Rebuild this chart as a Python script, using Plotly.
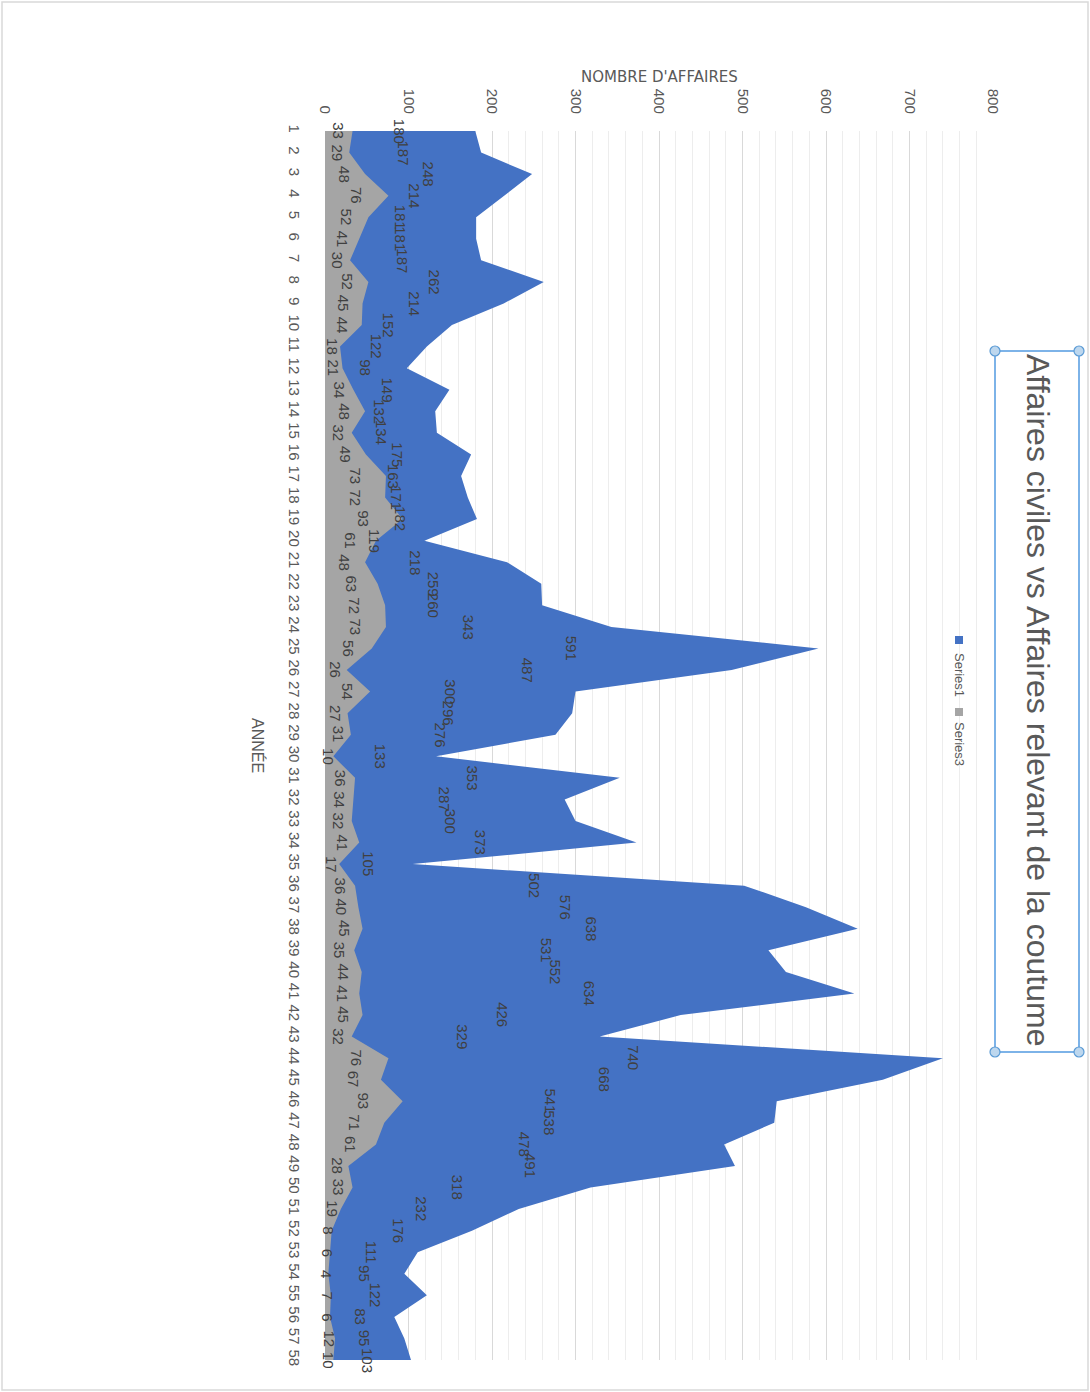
import plotly.graph_objects as go

# ---- data ----
annees = list(range(1, 59))
series1 = [180, 187, 248, 214, 181, 181, 187, 262, 214, 152,
           122, 98, 149, 132, 134, 175, 163, 171, 182, 119,
           218, 259, 260, 343, 591, 487, 300, 296, 276, 133,
           353, 287, 300, 373, 105, 502, 576, 638, 531, 552,
           634, 426, 329, 740, 668, 541, 538, 478, 491, 318,
           232, 176, 111, 95, 122, 83, 95, 103]
series3 = [33, 29, 48, 76, 52, 41, 30, 52, 45, 44,
           18, 21, 34, 48, 32, 49, 73, 72, 93, 61,
           48, 63, 72, 73, 56, 26, 54, 27, 31, 10,
           36, 34, 32, 41, 17, 36, 40, 45, 35, 44,
           41, 45, 32, 76, 67, 93, 71, 61, 28, 33,
           19, 8, 6, 4, 7, 6, 12, 10]
value_ticks = [0, 100, 200, 300, 400, 500, 600, 700, 800]
title_text = "Affaires civiles vs Affaires relevant de la coutume"
value_title = "NOMBRE D'AFFAIRES"
cat_title = "ANNÉE"
names = ["Series1", "Series3"]

BLUE = "#4472C4"
GRAY = "#A5A5A5"
TXT = "#595959"
LBL = "#404040"
NARROW = "Liberation Sans Narrow, Arial Narrow, Liberation Sans, sans-serif"

W, H = 1090, 1392
L, R, T, B = 325, 993, 131, 1360


def px_x(px):
    return (px - L) / (R - L)


def px_y(py):
    return (B - py) / (B - T)


fig = go.Figure()
fig.add_trace(go.Scatter(x=series1, y=annees, mode="lines", fill="tozerox",
                         fillcolor=BLUE, line=dict(width=0, color=BLUE),
                         name=names[0], showlegend=False, hoverinfo="x+y"))
fig.add_trace(go.Scatter(x=series3, y=annees, mode="lines", fill="tozerox",
                         fillcolor=GRAY, line=dict(width=0, color=GRAY),
                         name=names[1], showlegend=False, hoverinfo="x+y"))

annotations = []
for ser in (series1, series3):
    for c, v in zip(annees, ser):
        annotations.append(dict(x=v / 2, y=c, xref="x", yref="y", text=str(v),
                                textangle=90, showarrow=False,
                                xanchor="center", yanchor="middle",
                                font=dict(family=NARROW, size=15, color=LBL)))


def paper_text(px, py, text, size, angle=90, family=NARROW):
    return dict(x=px_x(px), y=px_y(py), xref="paper", yref="paper",
                text=text, textangle=angle, showarrow=False,
                xanchor="center", yanchor="middle",
                font=dict(family=family, size=size, color=TXT))


annotations.append(paper_text(1038, 700, title_text, 32))
annotations.append(paper_text(659, 77, value_title, 15, angle=0, family="DejaVu Sans"))
annotations.append(paper_text(258, 745, cat_title, 16))
annotations.append(paper_text(960, 675, names[0], 13))
annotations.append(paper_text(960, 744, names[1], 13))

shapes = []
# outer frame
shapes.append(dict(type="rect", xref="paper", yref="paper",
                   x0=px_x(2), x1=px_x(1088), y0=px_y(2), y1=px_y(1390),
                   line=dict(color="#D9D9D9", width=1.5), layer="below"))
# legend squares
shapes.append(dict(type="rect", xref="paper", yref="paper",
                   x0=px_x(955), x1=px_x(963), y0=px_y(636), y1=px_y(644),
                   fillcolor=BLUE, line=dict(width=0)))
shapes.append(dict(type="rect", xref="paper", yref="paper",
                   x0=px_x(955), x1=px_x(963), y0=px_y(708), y1=px_y(716),
                   fillcolor=GRAY, line=dict(width=0)))
# selected title box
shapes.append(dict(type="rect", xref="paper", yref="paper",
                   x0=px_x(995), x1=px_x(1079), y0=px_y(351), y1=px_y(1052),
                   line=dict(color="#7DB3E8", width=2)))
for cx in (995, 1079):
    for cy in (351, 1052):
        shapes.append(dict(type="circle", xref="paper", yref="paper",
                           x0=px_x(cx - 5), x1=px_x(cx + 5),
                           y0=px_y(cy - 5), y1=px_y(cy + 5),
                           fillcolor="#BDD7EE", line=dict(color="#5B9BD5", width=1.2)))

fig.update_layout(
    width=W, height=H,
    margin=dict(l=L, r=W - R, t=T, b=H - B, pad=0),
    paper_bgcolor="white", plot_bgcolor="white",
    showlegend=False,
    annotations=annotations, shapes=shapes,
    xaxis=dict(range=[0, 800], side="top", tickvals=value_ticks,
               tickangle=90, tickfont=dict(family=NARROW, size=15, color=TXT),
               showgrid=True, gridcolor="#D9D9D9", gridwidth=1,
               minor=dict(dtick=20, showgrid=True, gridcolor="#EDEDED", gridwidth=1),
               zeroline=False, showline=False, ticks="",
               ticklabelstandoff=14, fixedrange=True),
    yaxis=dict(range=[58, 1], tickvals=annees, tickangle=90,
               tickfont=dict(family=NARROW, size=15, color=TXT),
               showgrid=False, zeroline=False, showline=False, ticks="",
               ticklabelstandoff=20, fixedrange=True),
)

fig.write_html("out.html", config={"displayModeBar": False},
               post_script="document.body.style.margin='0';document.body.style.overflow='hidden';")
